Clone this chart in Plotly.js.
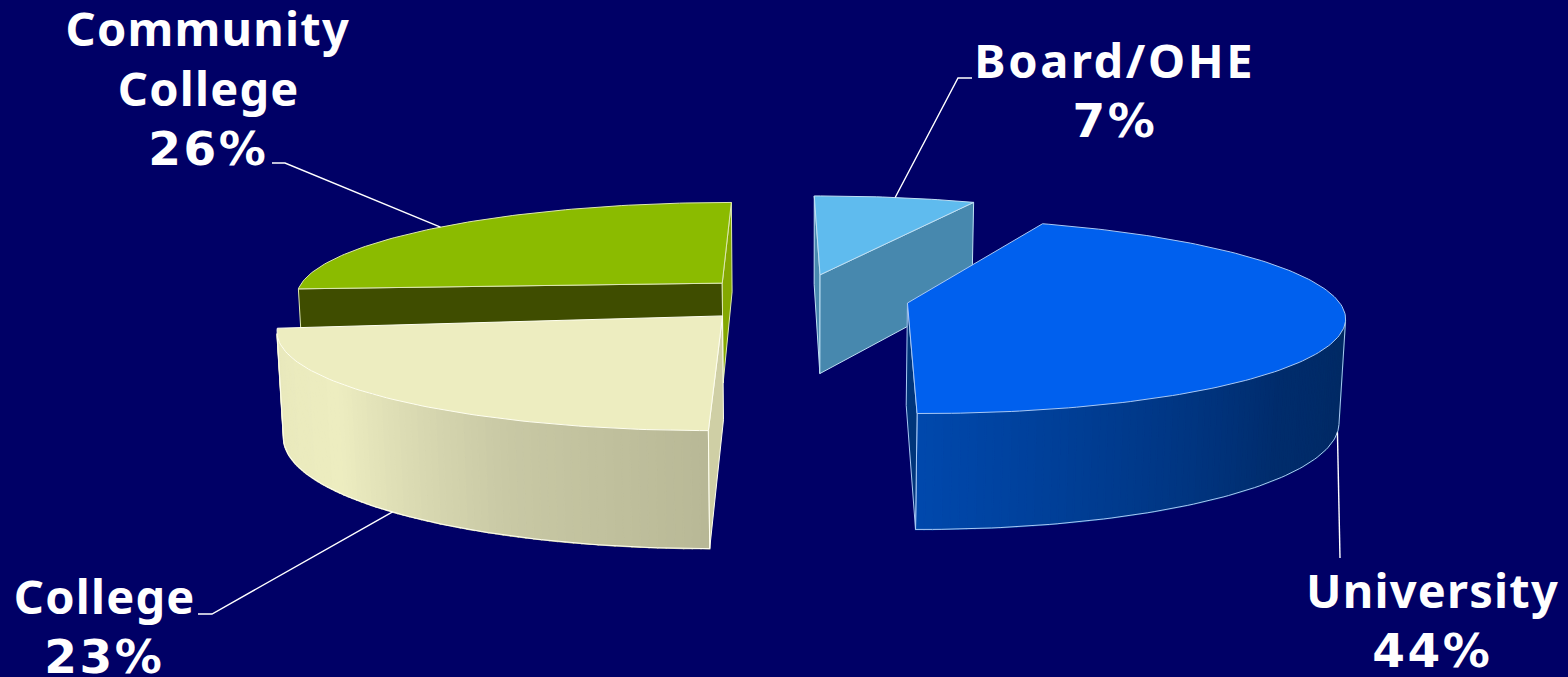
<!DOCTYPE html>
<html>
<head>
<meta charset="utf-8">
<script src="https://cdn.plot.ly/plotly-3.0.1.min.js"></script>
<style>
html,body{margin:0;padding:0;background:#000066;overflow:hidden}
</style>
</head>
<body>
<div id="chart" style="width:1568px;height:677px"></div>
<script>
// Data (clockwise from the start angle)
const categories = ["Board/OHE", "University", "College", "Community|College"];
const values = [7, 44, 23, 26];

// Styles
const topColors = ["#5FBBEE", "#0060EE", "#EDEDC0", "#8BBB00"];
const startCutColors = ["#4788AE", "#003A80", "#CFCFA5", "#3F4D00"];
const endCutColors = ["#4788AE", "#00357A", "#CFCFA5", "#84A800"];
const wallStops = [
  [[0, "#4788AE"], [360, "#4788AE"]],
  [[90, "#00285F"], [130, "#002C6C"], [180, "#0048AC"]],
  [[180, "#B8B896"], [205, "#C9C9A5"], [232, "#EDEDC0"], [270, "#E6E6BA"]],
  [[0, "#3F4D00"], [360, "#3F4D00"]]
];
const edgeColors = ["#BFE0F4", "#A8C8F4", "#FFFFF0", "#DDE8B0"];
const bg = "#000066";

// Layout of the exploded perspective pie
const startAngle = -3.4;
const offX = [0.041, 0.2416, -0.183, -0.192];
const offY = [0.263, -0.042, -0.174, 0.171];
const angleShift = [2.8, 0.5, 0, 3.4];
const cam = {vx: 803, vy: 299, R: 430, K: 95, H: 103, p: 0.13, q: 0.012};
const labelX = [1115, 1432, 104, 208];
const labelY = [60, 590, 596, 28];
const lineGap = 60;
const nameSpacing = ["2.6px", "1.2px", "1.2px", "1.2px"];
const percentSpacing = "2.5px";
const leaders = [
  {angle: 12, bottom: false, elbow: [958, 78], end: [972, 78]},
  {angle: 104, bottom: true, elbow: [1340, 558], end: null},
  {angle: 222, bottom: true, elbow: [212, 614], end: [198, 614]},
  {angle: 312, bottom: false, elbow: [285, 163], end: [272, 163]}
];

const rad = d => d * Math.PI / 180;
function project(X, Y, low) {
  const w = 1 + cam.p * Y + (low ? cam.q : 0);
  return [cam.vx + cam.R * X / w, cam.vy + (-cam.K * Y + (low ? cam.H : 0)) / w];
}
function hex(c) { return [1, 3, 5].map(i => parseInt(c.substr(i, 2), 16)); }
function ramp(stops, a) {
  if (a <= stops[0][0]) return stops[0][1];
  for (let i = 1; i < stops.length; i++) {
    if (a <= stops[i][0]) {
      const t = (a - stops[i - 1][0]) / (stops[i][0] - stops[i - 1][0]);
      const c0 = hex(stops[i - 1][1]), c1 = hex(stops[i][1]);
      return "rgb(" + c0.map((v, k) => Math.round(v + (c1[k] - v) * t)).join(",") + ")";
    }
  }
  return stops[stops.length - 1][1];
}
function area(pts) {
  let s = 0;
  pts.forEach((p, i) => { const q = pts[(i + 1) % pts.length]; s += p[0] * q[1] - q[0] * p[1]; });
  return s / 2;
}
const traces = [];
function poly(pts, fill, lineColor, lineWidth) {
  const c = pts.concat([pts[0]]);
  traces.push({type: "scatter", mode: "lines", x: c.map(p => p[0]), y: c.map(p => p[1]),
    fill: "toself", fillcolor: fill, line: {color: lineColor, width: lineWidth},
    hoverinfo: "skip", showlegend: false});
}
function path(pts, color, width) {
  traces.push({type: "scatter", mode: "lines", x: pts.map(p => p[0]), y: pts.map(p => p[1]),
    line: {color: color, width: width}, hoverinfo: "skip", showlegend: false});
}

const total = values.reduce((a, b) => a + b, 0);
let cursor = startAngle;
const slices = values.map((v, i) => {
  const s = {a0: cursor + angleShift[i], a1: cursor + angleShift[i] + v / total * 360};
  cursor += v / total * 360;
  s.rim = (a, low) => project(offX[i] + Math.sin(rad(a)), offY[i] + Math.cos(rad(a)), low);
  s.apex = low => project(offX[i], offY[i], low);
  return s;
});

// Draw order: back to front
[0, 1, 3, 2].forEach(i => {
  const s = slices[i], step = 1;
  const n = Math.ceil((s.a1 - s.a0) / step);
  const angs = [];
  for (let k = 0; k <= n; k++) angs.push(s.a0 + (s.a1 - s.a0) * k / n);

  // outer wall
  let visible = [];
  for (let k = 0; k < n; k++) {
    const q = [s.rim(angs[k], false), s.rim(angs[k + 1], false), s.rim(angs[k + 1], true), s.rim(angs[k], true)];
    if (area(q) < 0) {
      const col = ramp(wallStops[i], (angs[k] + angs[k + 1]) / 2);
      poly(q, col, col, 1.5);
      visible.push(k);
    }
  }
  if (visible.length) {
    const first = visible[0], last = visible[visible.length - 1] + 1;
    const lowArc = [];
    for (let k = first; k <= last; k++) lowArc.push(s.rim(angs[k], true));
    path(lowArc, edgeColors[i], 1);
    path([s.rim(angs[first], false), s.rim(angs[first], true)], edgeColors[i], 1);
    path([s.rim(angs[last], false), s.rim(angs[last], true)], edgeColors[i], 1);
  }

  // cut faces
  const fs = [s.apex(false), s.rim(s.a0, false), s.rim(s.a0, true), s.apex(true)];
  if (area(fs) < 0) poly(fs, startCutColors[i], edgeColors[i], 1);
  const fe = [s.rim(s.a1, false), s.apex(false), s.apex(true), s.rim(s.a1, true)];
  if (area(fe) < 0) poly(fe, endCutColors[i], edgeColors[i], 1);

  // top
  const top = [s.apex(false)].concat(angs.map(a => s.rim(a, false)));
  poly(top, topColors[i], edgeColors[i], 1);
});

// Leader lines
leaders.forEach((l, i) => {
  const p = [slices[i].rim(l.angle, l.bottom), l.elbow];
  if (l.end) p.push(l.end);
  path(p, "#FFFFFF", 1.4);
});

// Labels: one annotation per text line; the name lines use a narrower face than the percentages
const annotations = [];
const spacings = [];
categories.forEach((c, i) => {
  const lines = c.split("|");
  lines.forEach((t, k) => {
    annotations.push({
      x: labelX[i], y: labelY[i] + k * lineGap, xref: "x", yref: "y",
      text: "<b>" + t + "</b>", showarrow: false, xanchor: "center", yanchor: "middle",
      font: {family: "Noto Sans", size: 47, color: "#FFFFFF"}
    });
    spacings.push(nameSpacing[i]);
  });
  annotations.push({
    x: labelX[i], y: labelY[i] + lines.length * lineGap, xref: "x", yref: "y",
    text: "<b>" + values[i] + "%</b>", showarrow: false, xanchor: "center", yanchor: "middle",
    font: {family: "DejaVu Sans", size: 47, color: "#FFFFFF"}
  });
  spacings.push(percentSpacing);
});

Plotly.newPlot("chart", traces, {
  width: 1568, height: 677,
  margin: {l: 0, r: 0, t: 0, b: 0},
  paper_bgcolor: bg, plot_bgcolor: bg,
  showlegend: false,
  xaxis: {range: [0, 1568], visible: false, fixedrange: true},
  yaxis: {range: [677, 0], visible: false, fixedrange: true},
  annotations: annotations
}, {displayModeBar: false, staticPlot: true}).then(() => {
  document.querySelectorAll(".annotation text").forEach((t, i) => {
    t.style.letterSpacing = spacings[i];
  });
});
</script>
</body>
</html>
